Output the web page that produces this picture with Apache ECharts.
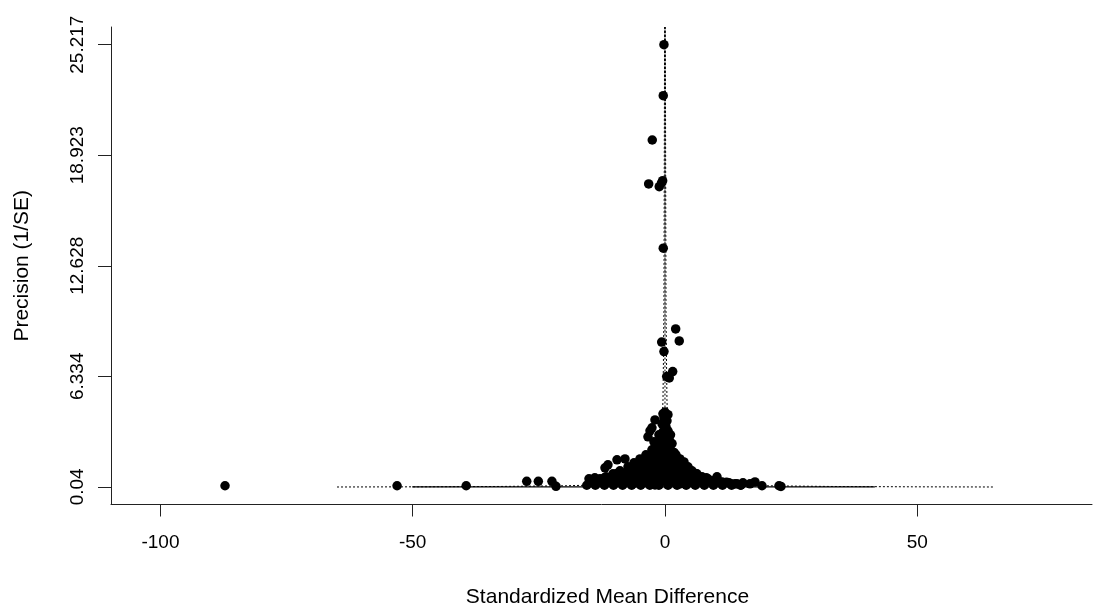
<!DOCTYPE html>
<html>
<head>
<meta charset="utf-8">
<script src="https://cdn.jsdelivr.net/npm/echarts@6/dist/echarts.min.js"></script>
<style>
  html, body { margin: 0; padding: 0; background: #fff; }
  #chart { width: 1094px; height: 605px; }
</style>
</head>
<body>
<div id="chart"></div>
<script>
// study effects (standardized mean difference) and precision (1/SE)
var smd = [
  -0.2, -0.34, -2.52, -3.23, -0.46, -1.13, -0.7, -0.34, 2.12, 2.83, -0.65, -0.2, 0.34, 1.53, 0.85,
  0, -0.4, 0.59, -0.2, 0.4, -0.59, 0.2, 0.59, -0.4, 0.2, -0.79, 0.79, -0.2, 0.4, -0.99, 0.99, 0, -0.59, 0.59,
  -1.98, -2.58, -3.37, -2.97, -2.18, -1.59,
  -2.58, -3.77, -1.78, -4.96, -2.97, -0.99, -6.14, -4.16, -1.98, -7.33, -5.35, -3.37, -8.92, -6.54, -4.36,
  -10.31, -7.93, -5.55, -11.69, -9.32, -6.94, -12.88, -10.7, -8.52, -14.07, -12.09, -9.91, -5.95, -15.06,
  -9.51, -7.93, -11.3, -11.89,
  1.39, 2.18, 0.99, 2.97, 3.77, 1.78, 4.56, 2.78, 0.99, 5.35, 3.77, 1.98, 6.34, 4.56, 2.78, 7.33, 5.55,
  3.77, 8.52, 6.54, 10.31, 9.51, 7.93, 11.3, 12.69, 13.88, 15.06, 4.96,
  -0.99, 0, -1.98, 0, -0.99, 0.99, -2.97, -0.99, 1.39, -3.96, 2.97, -1.98,
  13.08, 14.27, 15.46, 16.85, 17.84, 19.23, 22.6, 22.99,
  -87.2, -53.1, -39.4, -27.4, -25.1, -22.4, -21.6, -14.9, -13.9,
  // dense studies hidden inside the central cluster
  -1.2, -0.4, 0.4, 1.1,
  -1.6, -0.8, 0, 0.8, 1.4,
  -2.2, -1.4, -0.6, 0.3, 1.1, 1.8,
  -3.2, -2.2, -1.3, -0.4, 0.5, 1.4, 2.3,
  -5, -3.6, -2.6, -1.6, -0.6, 0.4, 1.4, 2.5, 3.4,
  -6.5, -5.6, -4.4, -3.2, -2.2, -1.2, -0.2, 0.8, 1.8, 2.8, 3.8, 4.6,
  -9.5, -8.3, -7.1, -6, -4.9, -3.8, -2.7, -1.6, -0.5, 0.6, 1.7, 2.8, 3.9, 5, 6,
  -12, -10.8, -9.6, -8.4, -7.2, -6, -4.8, -3.6, -2.4, -1.2, 0, 1.2, 2.4, 3.6, 4.8, 6, 7.2, 8.2,
  -14.5, -13, -11.5, -10, -8.5, -7, -5.5, -4, -2.5, -1, 0.5, 2, 3.5, 5, 6.5, 8, 9.5, 11, 12.2,
  -15.5, -13.8, -12, -10.2, -8.4, -6.6, -4.8, -3, -1.2, 0.6, 2.4, 4.2, 6, 7.8, 9.6, 11.4, 13.2, 15
];
var precision = [
  25.217, 22.31, 19.79, 17.29, 17.47, 17.13, 17.34, 13.63, 9.03, 8.35, 8.28, 7.74, 6.32, 6.6, 6.24,
  4.3, 4.2, 4.15, 3.97, 3.8, 3.63, 3.45, 3.23, 3.17, 2.94, 2.83, 2.71, 2.54, 2.37, 2.32, 2.2, 2.09, 1.86, 1.86,
  3.85, 3.4, 2.89, 3.23, 2.6, 2.37,
  2.15, 1.86, 1.8, 1.63, 1.58, 1.58, 1.41, 1.35, 1.29, 1.18, 1.12, 1.06, 0.95, 0.89, 0.84,
  0.78, 0.72, 0.67, 0.61, 0.55, 0.5, 0.5, 0.44, 0.38, 0.44, 0.32, 0.27, 0.27, 0.5,
  1.58, 1.63, 1.29, 1.12,
  2.03, 1.86, 1.63, 1.63, 1.46, 1.41, 1.18, 1.18, 1.18, 0.95, 0.95, 0.89, 0.78, 0.72, 0.67, 0.61, 0.55,
  0.5, 0.5, 0.44, 0.61, 0.38, 0.32, 0.32, 0.27, 0.21, 0.15, 0.32,
  1.29, 1.46, 0.89, 1.01, 0.72, 0.61, 0.55, 0.32, 0.32, 0.32, 0.21, 0.15,
  0.21, 0.21, 0.27, 0.21, 0.32, 0.1, 0.1, 0.06,
  0.1, 0.1, 0.1, 0.35, 0.35, 0.35, 0.07, 0.32, 0.55,
  3.0, 3.0, 3.0, 3.0,
  2.5, 2.5, 2.5, 2.5, 2.5,
  2.0, 2.0, 2.0, 2.0, 2.0, 2.0,
  1.7, 1.7, 1.7, 1.7, 1.7, 1.7, 1.7,
  1.4, 1.4, 1.4, 1.4, 1.4, 1.4, 1.4, 1.4, 1.4,
  1.1, 1.1, 1.1, 1.1, 1.1, 1.1, 1.1, 1.1, 1.1, 1.1, 1.1, 1.1,
  0.8, 0.8, 0.8, 0.8, 0.8, 0.8, 0.8, 0.8, 0.8, 0.8, 0.8, 0.8, 0.8, 0.8, 0.8,
  0.55, 0.55, 0.55, 0.55, 0.55, 0.55, 0.55, 0.55, 0.55, 0.55, 0.55, 0.55, 0.55, 0.55, 0.55, 0.55, 0.55, 0.55,
  0.3, 0.3, 0.3, 0.3, 0.3, 0.3, 0.3, 0.3, 0.3, 0.3, 0.3, 0.3, 0.3, 0.3, 0.3, 0.3, 0.3, 0.3, 0.3,
  0.13, 0.13, 0.13, 0.13, 0.13, 0.13, 0.13, 0.13, 0.13, 0.13, 0.13, 0.13, 0.13, 0.13, 0.13, 0.13, 0.13, 0.13
];

// pseudo confidence region (half width at each precision)
var funnelPrec = [0.03, 0.04, 0.06, 0.1, 0.15, 0.2, 0.3, 0.5, 0.75, 1, 1.5, 2, 3, 5, 10, 26.224];
var funnelHalf = [65, 49, 32.7, 19.6, 13.1, 9.8, 6.53, 3.92, 2.61, 1.96, 1.31, 0.98, 0.65, 0.39, 0.2, 0.075];
var centerPrec = [0, 26.224];
var solidX = [-50.1, 41.6];
var solidPrec = 0.04;

var xTicks = [-100, -50, 0, 50];
var yTicks = [0.04, 6.334, 12.628, 18.923, 25.217];

var points = smd.map(function (v, i) { return [v, precision[i]]; });
var leftFunnel = funnelPrec.map(function (p, i) { return [-funnelHalf[i], p]; });
var rightFunnel = funnelPrec.map(function (p, i) { return [funnelHalf[i], p]; });

var chart = echarts.init(document.getElementById('chart'));
var font = 'Liberation Sans, Arial, sans-serif';
var dots = [2, 2];

chart.setOption({
  backgroundColor: '#fff',
  animation: false,
  grid: { left: 111, right: 2, top: 27, bottom: 100.5, outerBoundsMode: 'none' },
  xAxis: {
    type: 'value',
    min: -109.8,
    max: 84.64,
    name: 'Standardized Mean Difference',
    nameLocation: 'middle',
    nameGap: 82,
    nameTextStyle: { color: '#000', fontSize: 21, fontFamily: font, padding: [0, 0, 0, 12] },
    axisLine: { show: true, onZero: false, lineStyle: { color: '#222', width: 1 } },
    axisTick: { show: true, length: 12, customValues: xTicks, lineStyle: { color: '#222' } },
    axisLabel: { customValues: xTicks, margin: 29, color: '#000', fontSize: 19, fontFamily: font },
    splitLine: { show: false }
  },
  yAxis: {
    type: 'value',
    min: -0.967,
    max: 26.224,
    name: 'Precision (1/SE)',
    nameLocation: 'middle',
    nameGap: 78,
    nameRotate: 90,
    nameTextStyle: { color: '#000', fontSize: 21, fontFamily: font },
    axisLine: { show: true, onZero: false, lineStyle: { color: '#222', width: 1 } },
    axisTick: { show: true, length: 13, customValues: yTicks, lineStyle: { color: '#222' } },
    axisLabel: { customValues: yTicks, rotate: 90, margin: 24, color: '#000', fontSize: 19, fontFamily: font },
    splitLine: { show: false }
  },
  series: [
    {
      type: 'line', silent: true, symbol: 'none', z: 1,
      data: centerPrec.map(function (p) { return [0, p]; }),
      lineStyle: { color: '#000', width: 1, type: dots }
    },
    {
      type: 'line', silent: true, symbol: 'none', z: 1,
      data: leftFunnel,
      lineStyle: { color: '#000', width: 1, type: dots }
    },
    {
      type: 'line', silent: true, symbol: 'none', z: 1,
      data: rightFunnel,
      lineStyle: { color: '#000', width: 1, type: dots }
    },
    {
      type: 'line', silent: true, symbol: 'none', z: 1,
      data: solidX.map(function (x) { return [x, solidPrec]; }),
      lineStyle: { color: '#000', width: 1.2, type: 'solid' }
    },
    {
      type: 'scatter', silent: true, z: 3,
      symbol: 'circle', symbolSize: 9.5,
      itemStyle: { color: '#000', opacity: 1 },
      data: points
    }
  ]
});
</script>
</body>
</html>
